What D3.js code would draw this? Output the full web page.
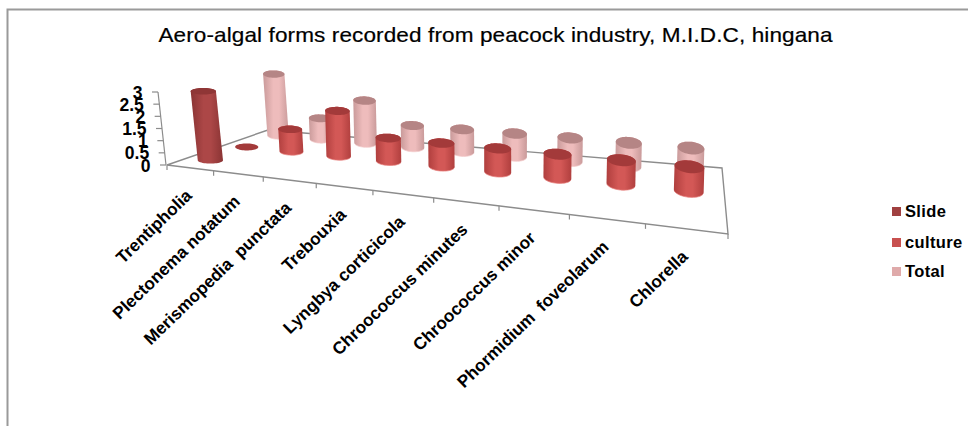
<!DOCTYPE html>
<html>
<head>
<meta charset="utf-8">
<script src="https://cdn.jsdelivr.net/npm/d3@7/dist/d3.min.js"></script>
<style>
  html, body { margin: 0; padding: 0; background: #fff; }
  svg { display: block; font-family: "Liberation Sans", Arial, sans-serif; }
</style>
</head>
<body>
<svg id="chart" width="968" height="426"></svg>
<script>
const categories = ["Trentipholia", "Plectonema notatum", "Merismopedia  punctata", "Trebouxia",
  "Lyngbya corticicola", "Chroococcus minutes", "Chroococcus minor", "Phormidium  foveolarum", "Chlorella"];
const seriesNames = ["Slide", "culture", "Total"];
const slide = [3, null, null, null, null, null, null, null, null];
const culture = [0, 1, 2, 1, 1, 1, 1, 1, 1];
const total = [3, 1, 2, 1, 1, 1, 1, 1, 1];
const seriesValues = [slide, culture, total];
const valueMax = 3;

const palette = {
  Slide:   { legend: "#a04040", edge: "#8a3434", mid: "#ac4747", top: "#8f3636" },
  culture: { legend: "#c8504f", edge: "#b03f3e", mid: "#d35856", top: "#a33a3a", rim: "#e8807e" },
  Total:   { legend: "#dfaaaa", edge: "#c99a9a", mid: "#eebcbc", top: "#b58585", rim: "#f3cccc" }
};

// Position scales in chart space, before the perspective step.
const n = categories.length;
const xBand = d3.scaleBand().domain(d3.range(n)).range([0, n]);
const zBand = d3.scaleBand().domain(d3.range(seriesNames.length)).range([0, 1.05]);

// Value axis runs up the front-left corner of the floor.
const axisY = d3.scaleLinear().domain([0, valueMax]).range([165, 92]);
const axisX = d3.scaleLinear().domain([0, valueMax]).range([166, 158]);

// Perspective of the floor plane: four corners and their place on the page.
const corners = [
  [[0, 0], [167, 165]],
  [[n, 0], [728, 234]],
  [[0, 1], [268, 130]],
  [[n, 1], [722, 168]]
];

function solve(A, b) {
  const m = A.map((r, i) => [...r, b[i]]);
  const N = b.length;
  for (let i = 0; i < N; i++) {
    let p = i;
    for (let r = i + 1; r < N; r++) if (Math.abs(m[r][i]) > Math.abs(m[p][i])) p = r;
    [m[i], m[p]] = [m[p], m[i]];
    for (let r = 0; r < N; r++) {
      if (r === i) continue;
      const f = m[r][i] / m[i][i];
      for (let c = i; c <= N; c++) m[r][c] -= f * m[i][c];
    }
  }
  return m.map((r, i) => r[N] / r[i]);
}

const rows = [], rhs = [];
corners.forEach(([[u, v], [x, y]]) => {
  rows.push([u, v, 1, 0, 0, 0, -x * u, -x * v]); rhs.push(x);
  rows.push([0, 0, 0, u, v, 1, -y * u, -y * v]); rhs.push(y);
});
const H = solve(rows, rhs);

// Eases the foreshortening along the category direction a little
const easeC = 0.0103, easeK = 1 + n * easeC;
function floorPoint(u0, v) {
  const u = easeK * u0 / (1 + easeC * u0);
  const d = H[6] * u + H[7] * v + 1;
  return [(H[0] * u + H[1] * v + H[2]) / d, (H[3] * u + H[4] * v + H[5]) / d];
}

// How tall one unit looks, how far it leans, and how wide the round cross-section
// looks, all depending on where the foot of the cylinder sits on the page.
const unitHeight = d3.scaleLinear().domain([133, 160, 191]).range([20.2, 23, 24.2]);
const unitLean = d3.scaleLinear().domain([207, 340, 690]).range([-2.4, -0.6, 0.7]);
const ringWidth = d3.scaleLinear().domain([133, 191]).range([21, 30]);
const ringHeight = d3.scaleLinear().domain([207, 690]).range([6.5, 12.5]);
const ringTilt = d3.scaleLinear().domain([207, 690]).range([0, 0.12]);

function ring(cx, cy, fx, fy) {
  const rx = ringWidth(fy) / 2, ry = ringHeight(fx) / 2, t = ringTilt(fx);
  return d3.range(0, 48).map(k => {
    const a = k / 48 * 2 * Math.PI;
    const ex = rx * Math.cos(a), ey = ry * Math.sin(a);
    return [cx + ex * Math.cos(t) - ey * Math.sin(t), cy + ex * Math.sin(t) + ey * Math.cos(t)];
  });
}

const svg = d3.select("#chart");
const defs = svg.append("defs");
const line = d3.line();
const axisColor = "#8c8c8c";

// Outer chart frame
svg.append("path")
  .attr("d", "M7.5,426V9.5H968")
  .attr("fill", "none").attr("stroke", "#9a9a9a").attr("stroke-width", 2);

// Title, set slightly wide
svg.append("text")
  .attr("transform", "translate(495.5,42) scale(1.1,1)")
  .attr("text-anchor", "middle")
  .attr("font-size", 20.5)
  .attr("fill", "#000")
  .attr("stroke", "#000").attr("stroke-width", 0.2)
  .style("letter-spacing", "0.1px")
  .text("Aero-algal forms recorded from peacock industry, M.I.D.C, hingana");

// Floor outline and the value axis
const g = svg.append("g");
const floorOutline = [[0, 1], [n, 1], [n, 0], [0, 0], [0, 1]].map(p => floorPoint(...p));
g.append("path").attr("d", line(floorOutline))
  .attr("fill", "none").attr("stroke", axisColor).attr("stroke-width", 1.4);

g.append("path").attr("d", line([[axisX(0), axisY(0)], [axisX(valueMax), axisY(valueMax)]]))
  .attr("fill", "none").attr("stroke", axisColor).attr("stroke-width", 1.2);

axisY.ticks(6).forEach(t => {
  const x = axisX(t), y = axisY(t);
  g.append("path").attr("d", line([[x, y], [x - 6, y]]))
    .attr("stroke", axisColor).attr("stroke-width", 1.2);
  g.append("text")
    .attr("x", x - 15.5).attr("y", y + 6.5)
    .attr("text-anchor", "end")
    .attr("font-size", 17.5).attr("font-weight", "bold")
    .text(String(t));
});

// Category ticks along the front edge of the floor
d3.range(n + 1).forEach(i => {
  const [x, y] = floorPoint(i, 0);
  g.append("path").attr("d", line([[x, y], [x, y + 5]]))
    .attr("stroke", axisColor).attr("stroke-width", 1.2);
});

// Slanted category labels
categories.forEach((name, i) => {
  const [x, y] = floorPoint(xBand(i) + xBand.bandwidth() / 2, 0);
  g.append("text")
    .attr("transform", `translate(${x + 3},${y + 29}) rotate(-44)`)
    .attr("text-anchor", "end")
    .attr("font-size", 17.2).attr("font-weight", "bold")
    .style("white-space", "pre")
    .text(name);
});

// Back series first so nearer cylinders overlap them
const bars = [];
seriesNames.forEach((s, si) => {
  seriesValues[si].forEach((val, ci) => {
    if (val !== null) bars.push({ s, si, ci, val });
  });
});
bars.sort((a, b) => d3.descending(a.si, b.si) || d3.ascending(a.ci, b.ci));

bars.forEach((b, idx) => {
  const u = xBand(b.ci) + xBand.bandwidth() / 2;
  const v = zBand(b.si) + zBand.bandwidth() / 2;
  const c = palette[b.s];
  const [fx, fy] = floorPoint(u, v);
  const tx = fx + unitLean(fx) * b.val;
  const ty = fy - unitHeight(fy) * b.val;
  const base = ring(fx, fy, fx, fy);
  const top = ring(tx, ty, fx, fy);
  if (b.val > 0) {
    const hull = d3.polygonHull([...base, ...top]);
    const [x0, x1] = d3.extent(hull, p => p[0]);
    const id = "cyl" + idx;
    const grad = defs.append("linearGradient").attr("id", id)
      .attr("gradientUnits", "userSpaceOnUse")
      .attr("x1", x0).attr("x2", x1).attr("y1", 0).attr("y2", 0);
    [[0, c.edge], [0.4, c.mid], [0.62, c.mid], [1, c.edge]].forEach(([o, col]) =>
      grad.append("stop").attr("offset", o).attr("stop-color", col));
    g.append("path").attr("d", line(hull) + "Z").attr("fill", `url(#${id})`);
    if (c.rim) {
      // Pale glint along the lower lip of the cylinder
      g.append("path").attr("d", line(base.slice(2, 23)))
        .attr("fill", "none").attr("stroke", c.rim).attr("stroke-width", 1).attr("opacity", 0.7);
    }
  }
  g.append("path").attr("d", line(top) + "Z").attr("fill", c.top);
});

// Legend
seriesNames.forEach((s, i) => {
  const row = [207, 238, 267][i];
  svg.append("rect")
    .attr("x", 892).attr("y", row).attr("width", 9).attr("height", 9)
    .attr("fill", palette[s].legend);
  svg.append("text")
    .attr("x", 905).attr("y", row + 10)
    .attr("font-size", 16.5).attr("font-weight", "bold")
    .style("letter-spacing", "0.35px")
    .text(s);
});
</script>
</body>
</html>
